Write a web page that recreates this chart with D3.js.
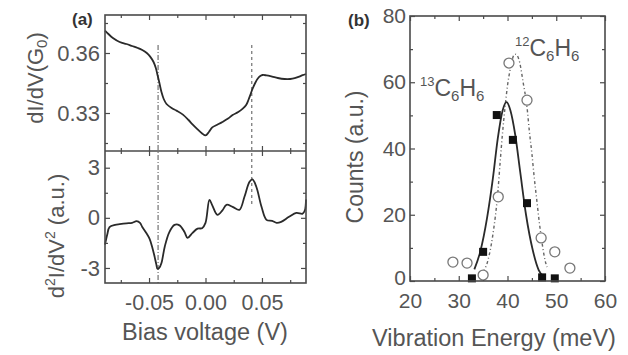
<!DOCTYPE html>
<html>
<head>
<meta charset="utf-8">
<script src="https://cdn.jsdelivr.net/npm/d3@7"></script>
<style>
  html, body { margin: 0; padding: 0; background: #fff; }
  svg { display: block; font-family: "Liberation Sans", Arial, Helvetica, sans-serif; }
</style>
</head>
<body>
<svg id="chart" width="628" height="355"></svg>
<script>
// ---- (a) upper trace: dI/dV versus bias ----
const biasUpper = [-0.089, -0.086, -0.082, -0.076, -0.070, -0.065, -0.060, -0.056, -0.052, -0.049,
  -0.046, -0.044, -0.0425, -0.041, -0.039, -0.037, -0.0345, -0.030, -0.0257, -0.020, -0.015,
  -0.0115, -0.007, -0.003, 0.000, 0.003, 0.006, 0.010, 0.015, 0.020, 0.024, 0.029, 0.033, 0.036,
  0.038, 0.040, 0.0416, 0.044, 0.046, 0.0485, 0.0505, 0.054, 0.059, 0.064, 0.070, 0.075, 0.079,
  0.083, 0.086, 0.089];
const conductance = [0.3712, 0.3695, 0.3675, 0.3655, 0.3645, 0.3635, 0.3625, 0.3615, 0.3600, 0.3582,
  0.3555, 0.3525, 0.3490, 0.3455, 0.3405, 0.3370, 0.3345, 0.3325, 0.3312, 0.3292, 0.3265,
  0.3243, 0.3218, 0.3198, 0.3188, 0.3205, 0.3228, 0.3240, 0.3255, 0.3272, 0.3290, 0.3305, 0.3322, 0.3340,
  0.3365, 0.3395, 0.3420, 0.3450, 0.3470, 0.3485, 0.3490, 0.3488, 0.3482, 0.3475, 0.3470, 0.3470, 0.3474,
  0.3482, 0.3489, 0.3495];

// ---- (a) lower trace: d2I/dV2 versus bias ----
const biasLower = [-0.089, -0.087, -0.085, -0.080, -0.076, -0.070, -0.065, -0.061, -0.058, -0.056,
  -0.053, -0.0496, -0.047, -0.045, -0.0435, -0.0425, -0.041, -0.039, -0.036, -0.032, -0.0274,
  -0.023, -0.0186, -0.0159, -0.0115, -0.007, -0.003, 0.000, 0.0035, 0.006, 0.0106, 0.0150,
  0.0186, 0.024, 0.030, 0.0345, 0.039, 0.0416, 0.045, 0.0496, 0.054, 0.059, 0.063, 0.067,
  0.074, 0.0805, 0.086, 0.0880, 0.089];
const secondDeriv = [-1.6, -1.0, -0.55, -0.42, -0.38, -0.33, -0.30, -0.20, -0.30, -0.55,
  -0.85, -1.25, -1.80, -2.35, -2.80, -3.05, -3.00, -2.70, -1.70, -0.85, -0.42,
  -0.45, -0.85, -1.20, -0.90, -0.65, -0.62, -0.30, 1.08, 0.75, 0.18, 0.45,
  0.78, 0.66, 0.48, 1.26, 2.16, 2.30, 1.86, 0.66, -0.12, -0.18, -0.30, -0.24,
  0.06, 0.30, 0.25, 0.45, 1.10];

// ---- (a) vibration-mode markers (bias, upper end in G0, lower end in a.u.) ----
const markerBias = [-0.042, 0.041];
const markerUpperEnd = [0.364, 0.364];
const markerLowerEnd = [-3.9, 0.8];

// ---- (b) histogram of vibration energies ----
const energy13 = [32.7, 35.0, 37.8, 41.1, 44.0, 47.1, 49.7];
const counts13 = [0.8, 8.8, 50.1, 42.6, 23.5, 1.1, 0.8];
const energy12 = [28.8, 31.7, 35.0, 38.1, 40.3, 44.0, 46.9, 49.7, 52.8];
const counts12 = [5.7, 5.4, 1.8, 25.4, 65.8, 54.6, 13.0, 8.8, 3.9];

// ---- (b) fitted peaks ----
const fitEnergy13 = [33.2, 34.4, 35.8, 37.0, 38.0, 39.0, 39.8, 40.6, 41.6, 42.6, 43.8, 45.2, 46.4, 47.5];
const fitCounts13 = [3.5, 8.8, 19.0, 31.0, 43.0, 51.5, 54.0, 51.5, 44.0, 33.0, 20.0, 9.2, 3.3, 1.2];
const fitEnergy12 = [35.0, 36.0, 37.0, 38.0, 38.5, 39.0, 39.5, 40.0, 40.5, 41.0, 41.5, 42.0, 42.5,
  43.2, 44.0, 44.5, 45.0, 45.5, 46.0, 46.5, 47.0, 47.7, 48.1];
const fitCounts12 = [2.7, 6.3, 14.0, 26.5, 36.0, 45.0, 52.5, 59.0, 63.5, 67.0, 68.5, 68.0, 66.0,
  60.0, 52.5, 45.0, 38.5, 31.0, 24.5, 18.0, 12.4, 6.3, 4.2];

// ---- ticks ----
const biasMajor = [-0.05, 0.00, 0.05];
const biasMinor = [-0.075, -0.025, 0.025, 0.075];
const condMajor = [0.36, 0.33];
const condMinor = [0.375, 0.345, 0.315];
const derivMajor = [3, 0, -3];
const derivMinor = [1.5, -1.5];
const energyMajor = [20, 30, 40, 50, 60];
const energyMinor = [25, 35, 45, 55];
const countMajor = [0, 20, 40, 60, 80];
const countMinor = [10, 30, 50, 70];

const svg = d3.select("#chart");
const INK = "#2a2a2a", FRAME = "#4a4a4a", TEXT = "#555";

// ---------- scales ----------
const xA = d3.scaleLinear().domain([-0.089, 0.089]).range([105, 306]);
const yUp = d3.scaleLinear().domain([0.311, 0.379]).range([151, 15]);
const yLo = d3.scaleLinear().domain([-3.9, 4.0]).range([283, 151]);
const xB = d3.scaleLinear().domain([20, 60]).range([410, 605]);
const yB = d3.scaleLinear().domain([0, 80]).range([281, 16]);

// inward tick marks on one side of a box
function tickMarks(axisFn, scale, values, len, pos, vertical) {
  const g = svg.append("g")
    .attr("transform", vertical ? `translate(${pos},0)` : `translate(0,${pos})`)
    .call(axisFn(scale).tickValues(values).tickSize(len).tickFormat(""));
  g.select(".domain").remove();
  g.selectAll(".tick line").attr("stroke", FRAME).attr("stroke-width", 1.2);
  return g;
}
function labels(axisFn, scale, values, pos, vertical, fmt, pad, size) {
  const g = svg.append("g")
    .attr("transform", vertical ? `translate(${pos},0)` : `translate(0,${pos})`)
    .call(axisFn(scale).tickValues(values).tickSize(0).tickPadding(pad).tickFormat(fmt));
  g.select(".domain").remove();
  g.selectAll(".tick line").remove();
  g.selectAll("text").attr("fill", TEXT).attr("font-size", size)
    .attr("font-family", '"Liberation Sans", Arial, sans-serif');
  return g;
}
// box with ticks on all four sides, pointing inward
function boxTicks(xs, ys, xMaj, xMin, yMaj, yMin) {
  const [x0, x1] = xs.range(), [y0, y1] = ys.range(); // y0 bottom, y1 top
  tickMarks(d3.axisBottom, xs, xMaj, -5, y0, false);
  tickMarks(d3.axisBottom, xs, xMin, -3, y0, false);
  tickMarks(d3.axisTop, xs, xMaj, -5, y1, false);
  tickMarks(d3.axisTop, xs, xMin, -3, y1, false);
  tickMarks(d3.axisLeft, ys, yMaj, -5, x0, true);
  tickMarks(d3.axisLeft, ys, yMin, -3, x0, true);
  tickMarks(d3.axisRight, ys, yMaj, -5, x1, true);
  tickMarks(d3.axisRight, ys, yMin, -3, x1, true);
}

// ================= panel (a) =================
boxTicks(xA, yUp, biasMajor, biasMinor, condMajor, condMinor);
boxTicks(xA, yLo, biasMajor, biasMinor, derivMajor, derivMinor);

// vibration-mode markers
const markerStyle = ["5,2,1,2", "3,3"];
markerBias.forEach((b, i) => {
  svg.append("line")
    .attr("x1", xA(b)).attr("x2", xA(b))
    .attr("y1", yUp(markerUpperEnd[i])).attr("y2", yLo(markerLowerEnd[i]))
    .attr("stroke", "#555").attr("stroke-width", 1)
    .attr("stroke-dasharray", markerStyle[i]);
});

const lineUp = d3.line().x(d => xA(d[0])).y(d => yUp(d[1])).curve(d3.curveCatmullRom.alpha(0.5));
svg.append("path").datum(d3.zip(biasUpper, conductance))
  .attr("d", lineUp).attr("fill", "none").attr("stroke", INK).attr("stroke-width", 1.8);

const lineLo = d3.line().x(d => xA(d[0])).y(d => yLo(d[1])).curve(d3.curveCatmullRom.alpha(0.5));
svg.append("path").datum(d3.zip(biasLower, secondDeriv))
  .attr("d", lineLo).attr("fill", "none").attr("stroke", INK).attr("stroke-width", 1.8);

// frames
svg.append("rect").attr("x", xA.range()[0]).attr("y", yUp.range()[1])
  .attr("width", xA.range()[1] - xA.range()[0]).attr("height", yLo.range()[0] - yUp.range()[1])
  .attr("fill", "none").attr("stroke", FRAME).attr("stroke-width", 1.6);
svg.append("line").attr("x1", xA.range()[0]).attr("x2", xA.range()[1])
  .attr("y1", yUp.range()[0]).attr("y2", yUp.range()[0])
  .attr("stroke", FRAME).attr("stroke-width", 1.6);

// tick labels
labels(d3.axisLeft, yUp, condMajor, xA.range()[0], true, d => d.toFixed(2), 5, "22px");
labels(d3.axisLeft, yLo, derivMajor, xA.range()[0], true, d => String(d), 5, "22px");
labels(d3.axisBottom, xA, biasMajor, yLo.range()[0], false, d => d.toFixed(2), 12, "21.5px");

// axis titles
svg.append("text").attr("x", 205).attr("y", 340).attr("text-anchor", "middle")
  .attr("fill", TEXT).attr("font-size", "23.5px").text("Bias voltage (V)");

const t1 = svg.append("text").attr("transform", "translate(43,78) rotate(-90)")
  .attr("text-anchor", "middle").attr("fill", TEXT).attr("font-size", "22px");
t1.append("tspan").text("dI/dV(G");
t1.append("tspan").attr("font-size", "15px").attr("dy", 4).text("0");
t1.append("tspan").attr("dy", -4).text(")");

const t2 = svg.append("text").attr("transform", "translate(64,236) rotate(-90)")
  .attr("text-anchor", "middle").attr("fill", TEXT).attr("font-size", "22px");
t2.append("tspan").text("d");
t2.append("tspan").attr("font-size", "14px").attr("dy", -9).text("2");
t2.append("tspan").attr("dy", 9).text("I/dV");
t2.append("tspan").attr("font-size", "14px").attr("dy", -9).text("2");
t2.append("tspan").attr("dy", 9).text(" (a.u.)");

svg.append("text").attr("x", 72).attr("y", 25).attr("fill", "#333")
  .attr("font-size", "17px").attr("font-weight", "bold").text("(a)");

// ================= panel (b) =================
boxTicks(xB, yB, energyMajor, energyMinor, countMajor, countMinor);

const fitLine = d3.line().x(d => xB(d[0])).y(d => yB(d[1])).curve(d3.curveMonotoneX);
svg.append("path").datum(d3.zip(fitEnergy12, fitCounts12))
  .attr("d", fitLine).attr("fill", "none").attr("stroke", "#666")
  .attr("stroke-width", 1.4).attr("stroke-dasharray", "3,2.5,1,2.5");
svg.append("path").datum(d3.zip(fitEnergy13, fitCounts13))
  .attr("d", fitLine).attr("fill", "none").attr("stroke", INK).attr("stroke-width", 1.8);

svg.append("g").selectAll("circle").data(d3.zip(energy12, counts12)).join("circle")
  .attr("cx", d => xB(d[0])).attr("cy", d => yB(d[1])).attr("r", 5)
  .attr("fill", "#fff").attr("stroke", "#777").attr("stroke-width", 1.3);

svg.append("g").selectAll("rect").data(d3.zip(energy13, counts13)).join("rect")
  .attr("x", d => xB(d[0]) - 4).attr("y", d => yB(d[1]) - 4)
  .attr("width", 8).attr("height", 8).attr("fill", "#111");

svg.append("rect").attr("x", xB.range()[0]).attr("y", yB.range()[1])
  .attr("width", xB.range()[1] - xB.range()[0]).attr("height", yB.range()[0] - yB.range()[1])
  .attr("fill", "none").attr("stroke", FRAME).attr("stroke-width", 1.6);

const countLabels = labels(d3.axisLeft, yB, countMajor, xB.range()[0], true, d => String(d), 4, "21px");
// the zero label sits in the corner; lift it slightly clear of the energy labels
countLabels.selectAll(".tick").filter(d => d === 0).select("text").attr("dy", "0.16em");
labels(d3.axisBottom, xB, energyMajor, yB.range()[0], false, d => String(d), 12, "21px");

svg.append("text").attr("x", 494).attr("y", 346).attr("text-anchor", "middle")
  .attr("fill", TEXT).attr("font-size", "23.5px").text("Vibration Energy (meV)");
svg.append("text").attr("transform", "translate(363,157) rotate(-90)")
  .attr("text-anchor", "middle").attr("fill", TEXT).attr("font-size", "23px").text("Counts (a.u.)");

svg.append("text").attr("x", 348).attr("y", 26).attr("fill", "#333")
  .attr("font-size", "17px").attr("font-weight", "bold").text("(b)");

// isotope labels
function isotope(x, y, mass) {
  const t = svg.append("text").attr("x", x).attr("y", y).attr("fill", TEXT).attr("font-size", "23px");
  t.append("tspan").attr("font-size", "13px").attr("dy", -10).text(mass);
  t.append("tspan").attr("dy", 10).text("C");
  t.append("tspan").attr("font-size", "15px").attr("dy", 5).text("6");
  t.append("tspan").attr("dy", -5).text("H");
  t.append("tspan").attr("font-size", "15px").attr("dy", 5).text("6");
}
isotope(420, 96, "13");
isotope(515, 56, "12");
</script>
</body>
</html>
